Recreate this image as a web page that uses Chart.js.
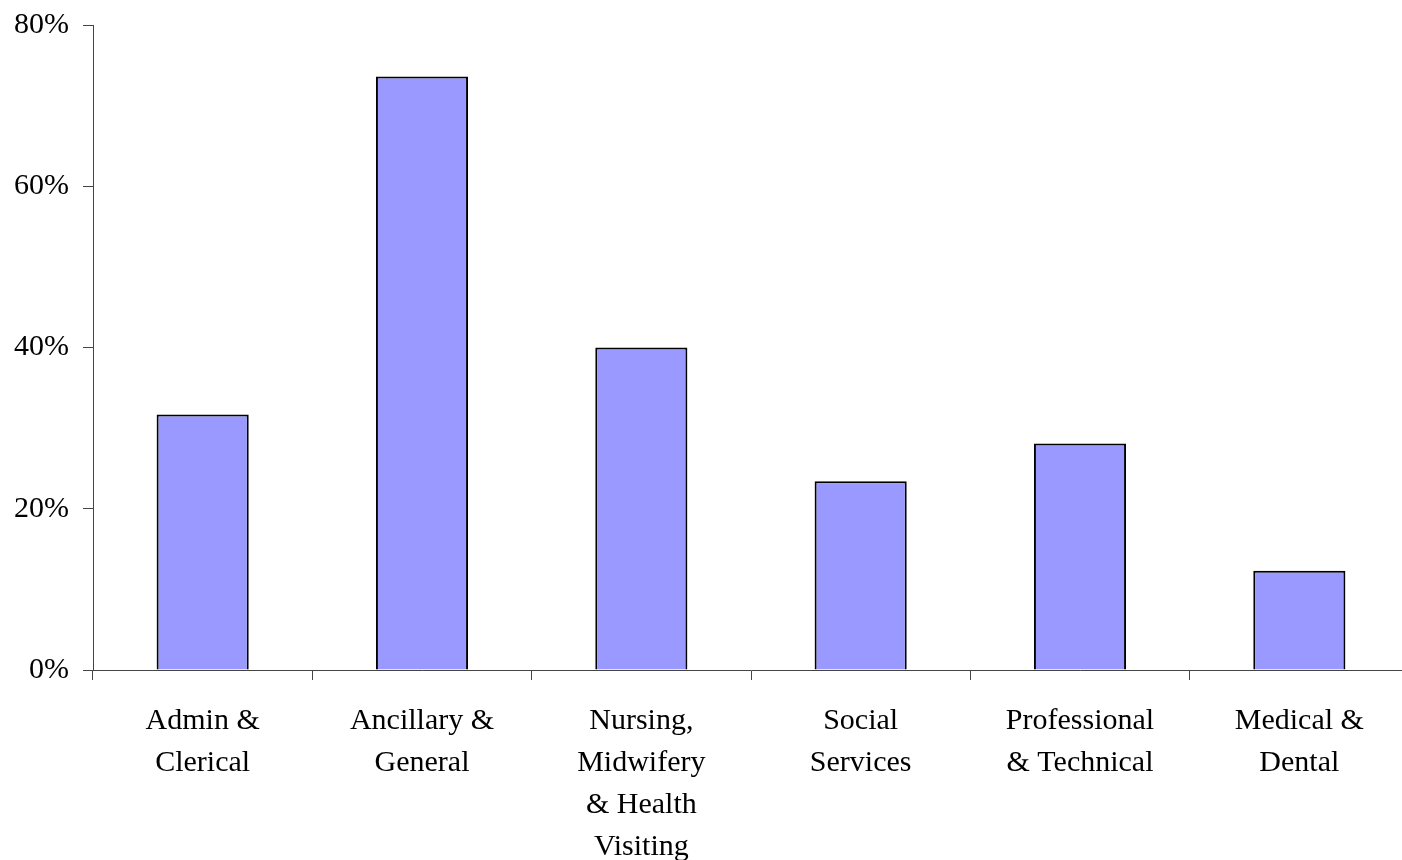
<!DOCTYPE html>
<html>
<head>
<meta charset="utf-8">
<script src="https://cdn.jsdelivr.net/npm/chart.js@4.4.0/dist/chart.umd.min.js"></script>
<style>
	html, body { margin: 0; padding: 0; background: #fff; overflow: hidden; }
	#chart-container { width: 1409px; height: 860px; }
</style>
</head>
<body>
<div id="chart-container"><canvas id="bargraph"></canvas></div>
<script>
// staff groups (multi-line labels as in the original)
var groups = [
	["Admin &", "Clerical"],
	["Ancillary &", "General"],
	["Nursing,", "Midwifery", "& Health", "Visiting"],
	["Social", "Services"],
	["Professional", "& Technical"],
	["Medical &", "Dental"]
];
var percent = [31.7, 73.6, 40.0, 23.4, 28.1, 12.3];
var yTicks = [0, 20, 40, 60, 80];

var font = { family: "'Liberation Serif', 'Times New Roman', serif", size: 30, lineHeight: 1.4 };

var ctx = document.getElementById("bargraph");

var barGraph = new Chart(ctx, {
	type: 'bar',
	data: {
		labels: groups,
		datasets: [{
			data: percent,
			backgroundColor: '#9999FF',
			borderColor: '#000000',
			borderWidth: 2,
			categoryPercentage: 1,
			barPercentage: 0.42
		}]
	},
	options: {
		responsive: true,
		maintainAspectRatio: false,
		animation: false,
		layout: { padding: { top: 0, right: 0, left: 0, bottom: 0 } },
		plugins: {
			legend: { display: false },
			tooltip: { enabled: false }
		},
		scales: {
			x: {
				grid: { display: true, drawOnChartArea: false, drawTicks: true, tickLength: 10, color: '#444', offset: true },
				border: { display: true, color: '#444', width: 1 },
				ticks: { font: font, color: '#000', padding: 20, maxRotation: 0, autoSkip: false },
				afterFit: function(scale) { scale.height = 190; }
			},
			y: {
				min: 0,
				max: 80,
				afterBuildTicks: function(scale) {
					scale.ticks = yTicks.map(function(v) { return { value: v }; });
				},
				grid: { display: true, drawOnChartArea: false, drawTicks: true, tickLength: 10, color: '#444' },
				border: { display: true, color: '#444', width: 1 },
				ticks: {
					font: { family: font.family, size: 30, lineHeight: 1.2 },
					color: '#000',
					padding: 14,
					callback: function(v) { return v + '%'; }
				},
				afterFit: function(scale) {
					scale.width = 93;
					scale.paddingTop = 25;
				}
			}
		}
	}
});
</script>
</body>
</html>
